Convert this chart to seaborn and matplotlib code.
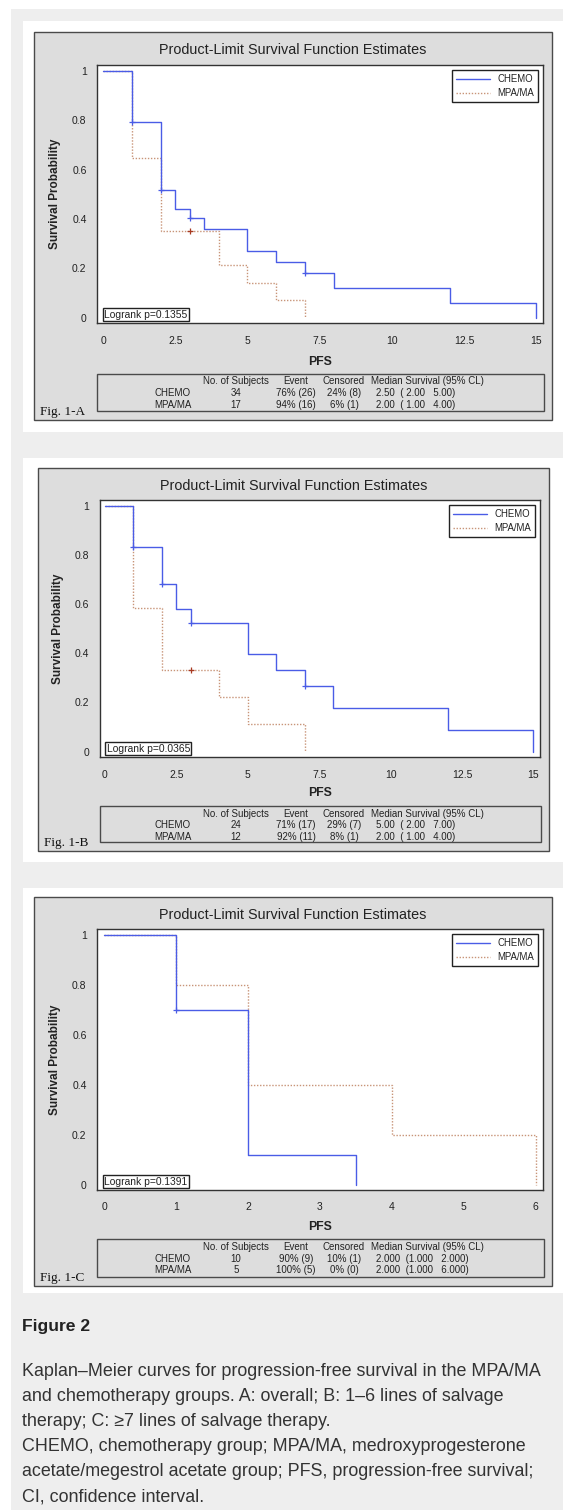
import matplotlib
matplotlib.use('Agg')
import matplotlib.pyplot as plt
from matplotlib.patches import Rectangle
import pandas as pd
import seaborn as sns

# ---- values ----
groups = ['CHEMO', 'MPA/MA']
table_header = ['No. of Subjects', 'Event', 'Censored', 'Median Survival (95% CL)']

# Fig. 1-A: overall
a_chemo_time = [0, 1, 2, 2.5, 3, 3.5, 5, 6, 7, 8, 12, 15]
a_chemo_surv = [1.0, 0.794, 0.516, 0.442, 0.405, 0.360, 0.271, 0.226, 0.181, 0.121, 0.060, 0.0]
a_chemo_cens_time = [1, 2, 3, 7]
a_chemo_cens_surv = [0.794, 0.516, 0.405, 0.181]
a_mpa_time = [0, 1, 2, 4, 5, 6, 7]
a_mpa_surv = [1.0, 0.647, 0.353, 0.212, 0.141, 0.071, 0.0]
a_mpa_cens_time = [3]
a_mpa_cens_surv = [0.353]
a_n = ['34', '17']
a_event = ['76% (26)', '94% (16)']
a_cens = ['24% (8)', '6% (1)']
a_median = ['2.50  ( 2.00   5.00)', '2.00  ( 1.00   4.00)']
a_logrank = 'Logrank p=0.1355'

# Fig. 1-B: 1-6 lines of salvage therapy
b_chemo_time = [0, 1, 2, 2.5, 3, 5, 6, 7, 8, 12, 15]
b_chemo_surv = [1.0, 0.833, 0.684, 0.582, 0.525, 0.396, 0.331, 0.265, 0.177, 0.088, 0.0]
b_chemo_cens_time = [1, 2, 3, 7]
b_chemo_cens_surv = [0.833, 0.684, 0.525, 0.265]
b_mpa_time = [0, 1, 2, 4, 5, 7]
b_mpa_surv = [1.0, 0.583, 0.333, 0.222, 0.111, 0.0]
b_mpa_cens_time = [3]
b_mpa_cens_surv = [0.333]
b_n = ['24', '12']
b_event = ['71% (17)', '92% (11)']
b_cens = ['29% (7)', '8% (1)']
b_median = ['5.00  ( 2.00   7.00)', '2.00  ( 1.00   4.00)']
b_logrank = 'Logrank p=0.0365'

# Fig. 1-C: >=7 lines of salvage therapy
c_chemo_time = [0, 1, 2, 3.5]
c_chemo_surv = [1.0, 0.700, 0.117, 0.0]
c_chemo_cens_time = [1]
c_chemo_cens_surv = [0.700]
c_mpa_time = [0, 1, 2, 4, 6]
c_mpa_surv = [1.0, 0.8, 0.4, 0.2, 0.0]
c_mpa_cens_time = []
c_mpa_cens_surv = []
c_n = ['10', '5']
c_event = ['90% (9)', '100% (5)']
c_cens = ['10% (1)', '0% (0)']
c_median = ['2.000  (1.000   2.000)', '2.000  (1.000   6.000)']
c_logrank = 'Logrank p=0.1391'

ab_ticks = [0, 2.5, 5, 7.5, 10, 12.5, 15]
ab_ticklabels = ['0', '2.5', '5', '7.5', '10', '12.5', '15']
c_ticks = [0, 1, 2, 3, 4, 5, 6]
c_ticklabels = ['0', '1', '2', '3', '4', '5', '6']
y_ticks = [0, 0.2, 0.4, 0.6, 0.8, 1.0]
y_ticklabels = ['0', '0.2', '0.4', '0.6', '0.8', '1']

caption_title = 'Figure 2'
caption_lines = [
    'Kaplan\u2013Meier curves for progression-free survival in the MPA/MA',
    'and chemotherapy groups. A: overall; B: 1\u20136 lines of salvage',
    'therapy; C: \u22657 lines of salvage therapy.',
    'CHEMO, chemotherapy group; MPA/MA, medroxyprogesterone',
    'acetate/megestrol acetate group; PFS, progression-free survival;',
    'CI, confidence interval.',
]

# ---- page geometry (pixels) ----
W, H = 563, 1510
PAGE_GRAY = '#eeeeee'
PANEL_GRAY = '#dddddd'
EDGE = '#4a4a4a'
BLUE = '#4a5ce6'
TAN = '#c89478'
RED = '#a83a22'

panels = [
    dict(label='Fig. 1-A', card=(22.7, 20.7, 563, 432), box=(34, 32, 552, 420),
         plot=(97, 65, 543, 323), xlim=(-0.21, 15.23), ticks=ab_ticks, ticklabels=ab_ticklabels,
         table=(374, 411), pfs=362,
         chemo=(a_chemo_time, a_chemo_surv, a_chemo_cens_time, a_chemo_cens_surv),
         mpa=(a_mpa_time, a_mpa_surv, a_mpa_cens_time, a_mpa_cens_surv),
         cols=(a_n, a_event, a_cens, a_median), logrank=a_logrank),
    dict(label='Fig. 1-B', card=(22.7, 458, 563, 862), box=(38, 468, 549, 851),
         plot=(99.5, 500, 540, 757), xlim=(-0.19, 15.23), ticks=ab_ticks, ticklabels=ab_ticklabels,
         table=(806, 842), pfs=793,
         chemo=(b_chemo_time, b_chemo_surv, b_chemo_cens_time, b_chemo_cens_surv),
         mpa=(b_mpa_time, b_mpa_surv, b_mpa_cens_time, b_mpa_cens_surv),
         cols=(b_n, b_event, b_cens, b_median), logrank=b_logrank),
    dict(label='Fig. 1-C', card=(22.7, 888, 563, 1293), box=(34, 897, 552, 1286),
         plot=(97, 929, 543, 1190), xlim=(-0.1, 6.1), ticks=c_ticks, ticklabels=c_ticklabels,
         table=(1239, 1277), pfs=1227,
         chemo=(c_chemo_time, c_chemo_surv, c_chemo_cens_time, c_chemo_cens_surv),
         mpa=(c_mpa_time, c_mpa_surv, c_mpa_cens_time, c_mpa_cens_surv),
         cols=(c_n, c_event, c_cens, c_median), logrank=c_logrank),
]


def fig_box(fig, x0, y0, x1, y1, fc, ec='none', lw=0.0, z=-5):
    fig.add_artist(Rectangle((x0 / W, 1 - y1 / H), (x1 - x0) / W, (y1 - y0) / H,
                             transform=fig.transFigure, facecolor=fc, edgecolor=ec,
                             linewidth=lw, zorder=z))


def fig_text(fig, x, y, s, **kw):
    return fig.text(x / W, 1 - y / H, s, **kw)


def draw_panel(fig, p):
    # card and grey SAS graph area
    fig_box(fig, *p['card'], fc='white', z=-4)
    fig_box(fig, *p['box'], fc=PANEL_GRAY, ec=EDGE, lw=1.0, z=-3)

    bx0, by0, bx1, by1 = p['box']
    px0, py0, px1, py1 = p['plot']
    ax = fig.add_axes([px0 / W, 1 - py1 / H, (px1 - px0) / W, (py1 - py0) / H])
    ax.set_facecolor('white')

    # survival curves
    mt, ms, mct, mcs = p['mpa']
    ct, cs, cct, ccs = p['chemo']
    mpa_df = pd.DataFrame({'PFS': mt, 'surv': ms})
    chemo_df = pd.DataFrame({'PFS': ct, 'surv': cs})
    sns.lineplot(data=chemo_df, x='PFS', y='surv', drawstyle='steps-post', estimator=None,
                 sort=False, color=BLUE, linewidth=1.0, label='CHEMO', ax=ax, zorder=3)
    sns.lineplot(data=mpa_df, x='PFS', y='surv', drawstyle='steps-post', estimator=None,
                 sort=False, color=TAN, linewidth=1.0, linestyle=(0, (1, 1.2)),
                 label='MPA/MA', ax=ax, zorder=2)
    if len(cct):
        sns.scatterplot(x=cct, y=ccs, marker='+', s=22, color=BLUE, linewidth=0.9,
                        ax=ax, zorder=4, legend=False)
    if len(mct):
        sns.scatterplot(x=mct, y=mcs, marker='+', s=22, color=RED, linewidth=0.9,
                        ax=ax, zorder=4, legend=False)

    ax.set_xlim(*p['xlim'])
    ax.set_ylim(-0.022, 1.024)
    ax.set_xticks(p['ticks'])
    ax.set_xticklabels(p['ticklabels'])
    ax.set_yticks(y_ticks)
    ax.set_yticklabels(y_ticklabels)
    ax.tick_params(direction='out', length=4.5, width=0.8, color='#333333',
                   labelsize=7.5, labelcolor='#222222', pad=3)
    ax.tick_params(axis='x', pad=4.5)
    for sp in ax.spines.values():
        sp.set_visible(True)
        sp.set_color('#333333')
        sp.set_linewidth(1.0)
    ax.set_xlabel('')
    ax.set_ylabel('')

    leg = ax.legend(loc='upper right', fontsize=6.9, frameon=True, fancybox=False,
                    framealpha=1, edgecolor='#222222', handlelength=3.6, handletextpad=0.7,
                    borderpad=0.4, labelspacing=0.4, borderaxespad=0.55)
    leg.get_frame().set_linewidth(1.0)
    for t in leg.get_texts():
        t.set_color('#222222')

    # logrank box in lower-left corner
    ax.text(0.016, 0.012, p['logrank'], transform=ax.transAxes, ha='left', va='bottom',
            fontsize=7.4, color='#222222', zorder=5,
            bbox=dict(boxstyle='square,pad=0.15', fc='white', ec='#222222', lw=1.0))

    # titles and axis labels
    fig_text(fig, (bx0 + bx1) / 2, by0 + 18, 'Product-Limit Survival Function Estimates',
             ha='center', va='center', fontsize=10.4, color='#222222')
    fig_text(fig, (px0 + px1) / 2, p['pfs'], 'PFS', ha='center', va='center',
             fontsize=8.8, fontweight='bold', color='#222222')
    fig_text(fig, px0 - 42, (py0 + py1) / 2, 'Survival Probability', ha='center', va='center',
             rotation=90, fontsize=8.5, fontweight='bold', color='#222222')

    # summary table
    ty0, ty1 = p['table']
    fig_box(fig, px0, ty0, px1 + 1, ty1, fc='none', ec=EDGE, lw=1.0, z=2)
    row_y = [ty0 + 7.5, ty0 + 19.5, ty0 + 31]
    tkw = dict(va='center', fontsize=7.0, color='#222222')
    fig_text(fig, 236, row_y[0], table_header[0], ha='center', **tkw)
    fig_text(fig, 296, row_y[0], table_header[1], ha='center', **tkw)
    fig_text(fig, 344, row_y[0], table_header[2], ha='center', **tkw)
    fig_text(fig, 371, row_y[0], table_header[3], ha='left', **tkw)
    n_col, ev_col, ce_col, md_col = p['cols']
    for i, g in enumerate(groups):
        y = row_y[i + 1]
        fig_text(fig, 173, y, g, ha='center', **tkw)
        fig_text(fig, 236, y, n_col[i], ha='center', **tkw)
        fig_text(fig, 296, y, ev_col[i], ha='center', **tkw)
        fig_text(fig, 344, y, ce_col[i], ha='center', **tkw)
        fig_text(fig, 376, y, md_col[i], ha='left', **tkw)

    fig_text(fig, bx0 + 6, ty1 + 1, p['label'], ha='left', va='center', fontsize=9.5,
             family=['Liberation Serif', 'DejaVu Serif'], color='#111111')


def main():
    sns.set_style('white')
    plt.rcParams['font.family'] = ['Liberation Sans', 'DejaVu Sans']

    fig = plt.figure(figsize=(W / 100, H / 100), dpi=100)
    fig.patch.set_facecolor('white')
    fig_box(fig, 11, 9, W, H, fc=PAGE_GRAY, z=-6)

    for p in panels:
        draw_panel(fig, p)

    # caption
    fig_text(fig, 22, 1327, caption_title, ha='left', va='center', fontsize=12.6,
             fontweight='bold', color='#222222')
    for i, line in enumerate(caption_lines):
        fig_text(fig, 22, 1371 + 25.2 * i, line, ha='left', va='center', fontsize=12.9,
                 color='#333333')

    fig.savefig('out.png', dpi=100)
    plt.close(fig)


if __name__ == '__main__':
    main()
